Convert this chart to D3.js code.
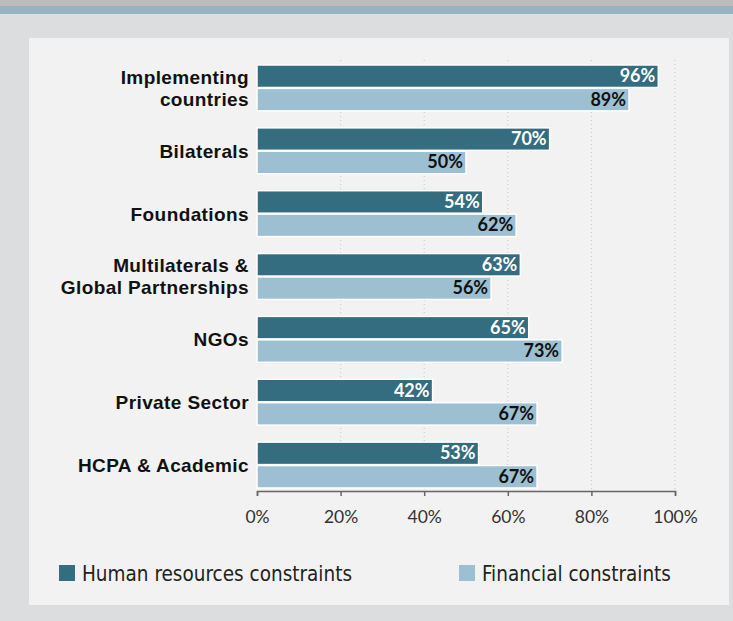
<!DOCTYPE html>
<meta charset="utf-8">
<style>
body { margin: 0; background: #dcdddf; }
.grid line { stroke: #c4c4c4; stroke-dasharray: 1,3; }
.cat { font-family: "Liberation Sans", Arial, sans-serif; font-weight: bold; font-size: 19px; letter-spacing: 0.4px; fill: #111; }
.val { font-family: "Lato", "DejaVu Sans", sans-serif; font-weight: bold; font-size: 18px; }
.axis text { font-family: "Lato", sans-serif; font-size: 17.5px; fill: #333; }
.axis path, .axis line { stroke: #666; stroke-width: 1.5px; }
.legend text { font-family: "DejaVu Sans Condensed", "Liberation Sans Narrow", sans-serif; font-size: 20.5px; fill: #222; }
</style>
<svg width="733" height="621"></svg>
<script src="https://d3js.org/d3.v7.min.js"></script>
<script>
let categories = ["Implementing\ncountries", "Bilaterals", "Foundations", "Multilaterals &\nGlobal Partnerships", "NGOs", "Private Sector", "HCPA & Academic"];
let humanResources = [96, 70, 54, 63, 65, 42, 53];
let financial = [89, 50, 62, 56, 73, 67, 67];
let seriesNames = ["Human resources constraints", "Financial constraints"];
let ticks = [0, 20, 40, 60, 80, 100];

let colors = ["#346c80", "#9cc0d2"];

let svg = d3.select("svg");

// frame
svg.append("rect").attr("width", 733).attr("height", 621).attr("fill", "#dcdddf");
svg.append("rect").attr("width", 733).attr("height", 6).attr("fill", "#bcbcbc");
svg.append("rect").attr("y", 6).attr("width", 733).attr("height", 8).attr("fill", "#98b4c3");
svg.append("rect").attr("x", 29).attr("y", 38).attr("width", 700).attr("height", 567).attr("fill", "#f2f2f2");

let x = d3.scaleLinear().domain([0, 100]).range([257, 675]);
let y = d3.scaleBand().domain(categories).range([65, 488]).paddingInner(0.27);
let sub = d3.scaleBand().domain([0, 1]).range([0, y.bandwidth()]).paddingInner(0.04);

// grid
svg.append("g").attr("class", "grid")
  .selectAll("line").data(ticks.slice(1)).enter().append("line")
  .attr("x1", d => x(d)).attr("x2", d => x(d))
  .attr("y1", 60).attr("y2", 490);

let rows = categories.map((c, i) => ({cat: c, vals: [humanResources[i], financial[i]]}));

let g = svg.append("g").selectAll("g").data(rows).enter().append("g")
  .attr("transform", d => "translate(0," + y(d.cat) + ")");

g.selectAll("rect").data(d => d.vals).enter().append("rect")
  .attr("x", x(0))
  .attr("y", (d, i) => sub(i))
  .attr("width", d => x(d) - x(0))
  .attr("height", sub.bandwidth())
  .attr("fill", (d, i) => colors[i])
  .attr("stroke", "#fff").attr("stroke-width", 1.5);

g.selectAll("text.val").data(d => d.vals).enter().append("text")
  .attr("class", "val")
  .attr("x", d => x(d) - 3)
  .attr("y", (d, i) => sub(i) + sub.bandwidth() / 2 + 6)
  .attr("text-anchor", "end")
  .attr("fill", (d, i) => i === 0 ? "#fff" : "#111")
  .text(d => d + "%");

g.each(function(d) {
  let lines = d.cat.split("\n");
  let t = d3.select(this).append("text").attr("class", "cat").attr("text-anchor", "end");
  lines.forEach((l, k) => {
    t.append("tspan").attr("x", 249)
      .attr("y", y.bandwidth() / 2 + 7 + (k - (lines.length - 1) / 2) * 22)
      .text(l);
  });
});

// axis
svg.append("g").attr("class", "axis")
  .attr("transform", "translate(0,491)")
  .call(d3.axisBottom(x).tickValues(ticks).tickSize(5).tickSizeOuter(5).tickPadding(20).tickFormat(d => d + "%"))
  .call(a => a.selectAll("text").attr("dy", "0.4em"));

// legend
let lg = svg.append("g").attr("class", "legend");
let lx = [59, 459];
seriesNames.forEach((n, i) => {
  lg.append("rect").attr("x", lx[i]).attr("y", 565).attr("width", 16).attr("height", 16).attr("fill", colors[i]);
  lg.append("text").attr("x", lx[i] + 23).attr("y", 581).text(n);
});
</script>
